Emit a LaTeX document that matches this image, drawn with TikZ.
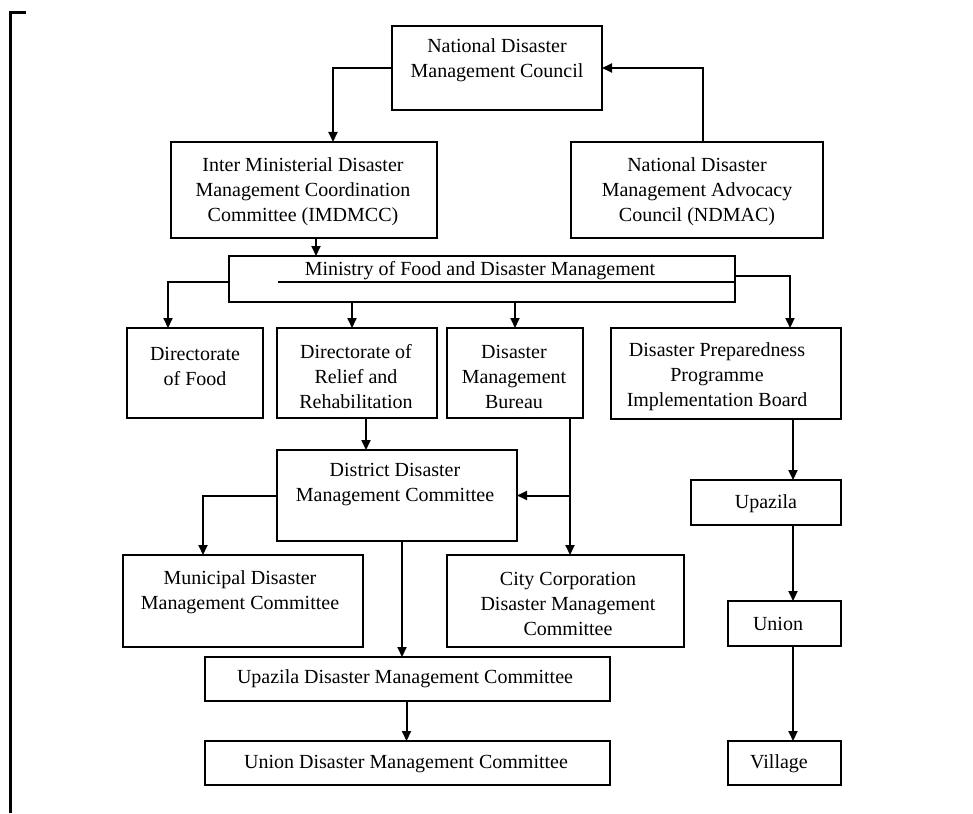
\documentclass[tikz,border=0pt]{standalone}
\usepackage{fontspec}
\setmainfont{Liberation Serif}
\usetikzlibrary{arrows.meta}
\begin{document}
\begin{tikzpicture}[x=1pt,y=-1pt,
 box/.style={draw,line width=2.2pt,inner sep=0pt,outer sep=0pt,rectangle},
 txt/.style={font=\fontsize{20}{25}\selectfont,align=center,inner sep=0pt},
 arr/.style={line width=2pt,-{Triangle[length=10pt,width=9pt]}},
 ln/.style={line width=2pt}]
\useasboundingbox (0,0) rectangle (973,813);
% frame
\draw[line width=3pt] (26,13) -- (10.5,13) -- (10.5,813);
% boxes
\node[box,minimum width=210pt,minimum height=84pt] (ndmc) at (497,68) {};
\node[box,minimum width=266pt,minimum height=96pt] (imd) at (304,190) {};
\node[box,minimum width=252pt,minimum height=96pt] (ndmac) at (697,190) {};
\node[box,minimum width=506pt,minimum height=46pt] (min) at (482,279) {};
\node[box,minimum width=136pt,minimum height=90pt] (dfood) at (195,373) {};
\node[box,minimum width=160pt,minimum height=90pt] (drr) at (357,373) {};
\node[box,minimum width=136pt,minimum height=90pt] (dmb) at (515,373) {};
\node[box,minimum width=230pt,minimum height=91pt] (dpp) at (726,373.5) {};
\node[box,minimum width=240pt,minimum height=91pt] (ddmc) at (397,495.5) {};
\node[box,minimum width=240pt,minimum height=92pt] (muni) at (243,601) {};
\node[box,minimum width=237pt,minimum height=92pt] (city) at (565.5,601) {};
\node[box,minimum width=405pt,minimum height=44pt] (udmc) at (407.5,679) {};
\node[box,minimum width=405pt,minimum height=44pt] (undmc) at (407.5,763) {};
\node[box,minimum width=150pt,minimum height=45pt] (upz) at (766,502.5) {};
\node[box,minimum width=113pt,minimum height=45pt] (unn) at (784.5,623.5) {};
\node[box,minimum width=113pt,minimum height=44pt] (vil) at (784.5,763) {};
% texts
\node[txt] (tndmc) at (497,60) {National Disaster\\Management Council};
\node[txt] (timd) at (303,192) {Inter Ministerial Disaster\\Management Coordination\\Committee (IMDMCC)};
\node[txt] (tndmac) at (697,192) {National Disaster\\Management Advocacy\\Council (NDMAC)};
\node[txt] (tmin) at (480,271) {Ministry of Food and Disaster Management};
\node[txt] (tdfood) at (195,366) {Directorate\\of Food};
\node[txt] (tdrr) at (356,377) {Directorate of\\Relief and\\Rehabilitation};
\node[txt] (tdmb) at (514,377) {Disaster\\Management\\Bureau};
\node[txt] (tdpp) at (717,377) {Disaster Preparedness\\Programme\\Implementation Board};
\node[txt] (tddmc) at (395,485) {District Disaster\\Management Committee};
\node[txt] (tmuni) at (240,592) {Municipal Disaster\\Management Committee};
\node[txt] (tcity) at (568,604) {City Corporation\\Disaster Management\\Committee};
\node[txt] (tudmc) at (405,679) {Upazila Disaster Management Committee};
\node[txt] (tundmc) at (406,764) {Union Disaster Management Committee};
\node[txt] (tupz) at (766,504) {Upazila};
\node[txt] (tunn) at (778,624) {Union};
\node[txt] (tvil) at (779,764) {Village};
% connectors
\draw[arr] (ndmc.west) -| ([xshift=29pt]imd.north);
\draw[arr] ([xshift=6pt]ndmac.north) |- (ndmc.east);
\coordinate (a1) at ([xshift=12pt]imd.south);
\draw[arr] (a1) -- (a1 |- min.north);
\draw[ln] ([yshift=-3pt]min.east) -- ([yshift=-3pt,xshift=49pt]min.west);
\draw[arr] ([yshift=-3pt]min.west) -| ([xshift=-27pt]dfood.north);
\draw[arr] ([yshift=3pt]min.east) -| ([xshift=64pt]dpp.north);
\coordinate (a2) at ([xshift=-5pt]drr.north);
\draw[arr] (a2 |- min.south) -- (a2);
\draw[arr] (dmb.north |- min.south) -- (dmb.north);
\coordinate (a4) at ([xshift=9pt]drr.south);
\draw[arr] (a4) -- (a4 |- ddmc.north);
\coordinate (a5) at ([xshift=55pt]dmb.south);
\draw[arr] (a5) -- (a5 |- city.north);
\draw[arr] (a5 |- ddmc.east) -- (ddmc.east);
\draw[arr] (ddmc.west) -| ([xshift=-40pt]muni.north);
\coordinate (a6) at ([xshift=5pt]ddmc.south);
\draw[arr] (a6) -- (a6 |- udmc.north);
\coordinate (a7) at ([xshift=-1pt]udmc.south);
\draw[arr] (a7) -- (a7 |- undmc.north);
\coordinate (r) at (793,0);
\draw[arr] (r |- dpp.south) -- (r |- upz.north);
\draw[arr] (r |- upz.south) -- (r |- unn.north);
\draw[arr] (r |- unn.south) -- (r |- vil.north);
\end{tikzpicture}
\end{document}
